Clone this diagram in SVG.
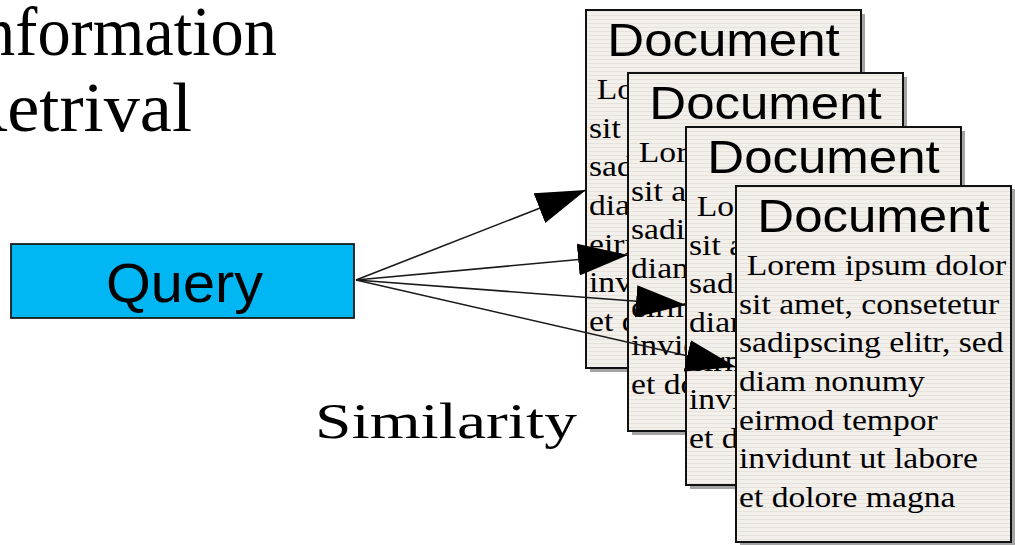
<svg xmlns="http://www.w3.org/2000/svg" width="1015" height="545" viewBox="0 0 1015 545">
  <defs>
    <pattern id="paper" width="8" height="4" patternUnits="userSpaceOnUse">
      <rect width="8" height="4" fill="#f3efeb"/>
      <rect y="3" width="8" height="1" fill="#e8e2dd"/>
    </pattern>
    <marker id="ah" markerUnits="userSpaceOnUse" markerWidth="52" markerHeight="34" refX="50" refY="17" orient="auto" viewBox="0 0 52 34">
      <path d="M0,1 L50,17 L0,33 z" fill="#000"/>
    </marker>
    <style>
      .sans { font-family: "Liberation Sans", Arial, sans-serif; fill: #000; }
      .serif { font-family: "Liberation Serif", "Times New Roman", serif; fill: #000; }
      .doc { fill: url(#paper); stroke: #111; stroke-width: 2; }
      .shadow { fill: #a4a4a4; }
      .title { font-size: 47px; text-anchor: middle; }
      .body { font-size: 30px; }
      .conn { stroke: #1a1a1a; stroke-width: 1.6; fill: none; marker-end: url(#ah); }
    </style>
  </defs>
  <rect width="1015" height="545" fill="#fff"/>

  <g id="heading">
    <text class="serif" x="-40" y="55" font-size="69" textLength="317" lengthAdjust="spacingAndGlyphs">Information</text>
    <text class="serif" x="-41" y="131" font-size="69" textLength="233" lengthAdjust="spacingAndGlyphs">Retrival</text>
  </g>

  <g id="query">
    <rect x="11" y="244" width="343" height="74" fill="#00b7f4" stroke="#1a1a1a" stroke-width="1.8"/>
    <text class="sans" x="106" y="302" font-size="56" textLength="157" lengthAdjust="spacingAndGlyphs">Query</text>
  </g>

  <g id="similarity">
    <text class="serif" x="315" y="438" font-size="51" textLength="262" lengthAdjust="spacingAndGlyphs">Similarity</text>
  </g>

  <g id="doc1">
    <rect class="shadow" x="590" y="14" width="275" height="358"/>
    <rect class="doc" x="586" y="10" width="275" height="358"/>
    <g transform="translate(723.5,56) scale(1.085 1)"><text class="sans title" x="0" y="0">Document</text></g>
    <g transform="translate(589,99) scale(1.12 1)">
      <text class="serif body"><tspan x="7" y="0">Lorem ipsum dolor</tspan><tspan x="0" y="38.7">sit amet, consetetur</tspan><tspan x="0" y="77.4">sadipscing elitr, sed</tspan><tspan x="0" y="116.1">diam nonumy</tspan><tspan x="0" y="154.8">eirmod tempor</tspan><tspan x="0" y="193.5">invidunt ut labore</tspan><tspan x="0" y="232.2">et dolore magna</tspan></text>
    </g>
  </g>

  <g id="doc2">
    <rect class="shadow" x="632" y="77" width="275" height="358"/>
    <rect class="doc" x="628" y="73" width="275" height="358"/>
    <g transform="translate(765.5,119) scale(1.085 1)"><text class="sans title" x="0" y="0">Document</text></g>
    <g transform="translate(631,162) scale(1.12 1)">
      <text class="serif body"><tspan x="7" y="0">Lorem ipsum dolor</tspan><tspan x="0" y="38.7">sit amet, consetetur</tspan><tspan x="0" y="77.4">sadipscing elitr, sed</tspan><tspan x="0" y="116.1">diam nonumy</tspan><tspan x="0" y="154.8">eirmod tempor</tspan><tspan x="0" y="193.5">invidunt ut labore</tspan><tspan x="0" y="232.2">et dolore magna</tspan></text>
    </g>
  </g>

  <g id="doc3">
    <rect class="shadow" x="690" y="131" width="275" height="358"/>
    <rect class="doc" x="686" y="127" width="275" height="358"/>
    <g transform="translate(823.5,173) scale(1.085 1)"><text class="sans title" x="0" y="0">Document</text></g>
    <g transform="translate(689,216) scale(1.12 1)">
      <text class="serif body"><tspan x="7" y="0">Lorem ipsum dolor</tspan><tspan x="0" y="38.7">sit amet, consetetur</tspan><tspan x="0" y="77.4">sadipscing elitr, sed</tspan><tspan x="0" y="116.1">diam nonumy</tspan><tspan x="0" y="154.8">eirmod tempor</tspan><tspan x="0" y="193.5">invidunt ut labore</tspan><tspan x="0" y="232.2">et dolore magna</tspan></text>
    </g>
  </g>

  <g id="doc4">
    <rect class="shadow" x="740" y="189" width="275" height="358"/>
    <rect class="doc" x="736" y="186" width="275" height="356"/>
    <g transform="translate(873.5,232) scale(1.085 1)"><text class="sans title" x="0" y="0">Document</text></g>
    <g transform="translate(739,275) scale(1.12 1)">
      <text class="serif body"><tspan x="7" y="0">Lorem ipsum dolor</tspan><tspan x="0" y="38.7">sit amet, consetetur</tspan><tspan x="0" y="77.4">sadipscing elitr, sed</tspan><tspan x="0" y="116.1">diam nonumy</tspan><tspan x="0" y="154.8">eirmod tempor</tspan><tspan x="0" y="193.5">invidunt ut labore</tspan><tspan x="0" y="232.2">et dolore magna</tspan></text>
    </g>
  </g>

  <g id="connectors">
    <line class="conn" x1="356" y1="280" x2="586" y2="190"/>
    <line class="conn" x1="356" y1="280" x2="628" y2="255"/>
    <line class="conn" x1="356" y1="280" x2="686" y2="305"/>
    <line class="conn" x1="356" y1="280" x2="736" y2="367"/>
  </g>
</svg>
